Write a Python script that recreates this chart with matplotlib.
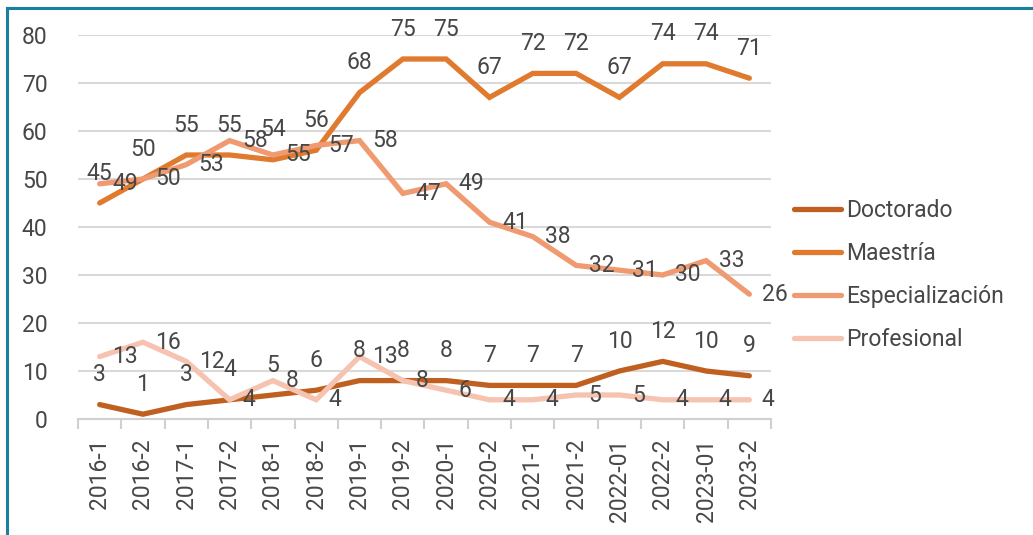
import matplotlib
matplotlib.use("Agg")
import matplotlib.pyplot as plt
from matplotlib.lines import Line2D

categories = ["2016-1", "2016-2", "2017-1", "2017-2", "2018-1", "2018-2", "2019-1", "2019-2",
              "2020-1", "2020-2", "2021-1", "2021-2", "2022-01", "2022-2", "2023-01", "2023-2"]
doctorado = [3, 1, 3, 4, 5, 6, 8, 8, 8, 7, 7, 7, 10, 12, 10, 9]
maestria = [45, 50, 55, 55, 54, 56, 68, 75, 75, 67, 72, 72, 67, 74, 74, 71]
especializacion = [49, 50, 53, 58, 55, 57, 58, 47, 49, 41, 38, 32, 31, 30, 33, 26]
profesional = [13, 16, 12, 4, 8, 4, 13, 8, 6, 4, 4, 5, 5, 4, 4, 4]

series_names = ["Doctorado", "Maestría", "Especialización", "Profesional"]
series_values = [doctorado, maestria, especializacion, profesional]
colors = ["#BF6020", "#E07A2E", "#EF9A70", "#F6C3B0"]
label_mode = ["above", "above", "right", "right"]

plt.rcParams['font.family'] = ['Roboto', 'DejaVu Sans']
text_color = "#474747"

fig = plt.figure(figsize=(10.33, 5.35), dpi=100)
fig.patch.set_facecolor("white")
W, H = 1033, 535
ax = fig.add_axes([78 / W, 1 - 419 / H, (771 - 78) / W, (419 - 35) / H])

x = list(range(len(categories)))
for name, vals, c in zip(series_names, series_values, colors):
    ax.plot(x, vals, color=c, lw=3.8, solid_capstyle='round', solid_joinstyle='miter', label=name, zorder=3)

for vals, mode in zip(series_values, label_mode):
    for xi, v in zip(x, vals):
        if mode == "above":
            ax.annotate(str(v), (xi, v), xytext=(0, 21.5), textcoords='offset points',
                        ha='center', va='center', fontsize=16.5, color=text_color, zorder=5)
        else:
            ax.annotate(str(v), (xi, v), xytext=(9, 0), textcoords='offset points',
                        ha='left', va='center', fontsize=16.5, color=text_color, zorder=5)

ax.set_xlim(-0.5, len(categories) - 0.5)
ax.set_ylim(0, 80)
ax.set_yticks(range(0, 81, 10))
ax.yaxis.grid(True, color="#D9D9D9", lw=1.5)
ax.set_axisbelow(True)
for s in ["top", "right", "left"]:
    ax.spines[s].set_visible(False)
ax.spines["bottom"].set_color("#D0D0D0")
ax.spines["bottom"].set_linewidth(1.5)
ax.tick_params(axis='y', length=0, pad=22, labelsize=16.5, labelcolor=text_color)
ax.set_xticks(x)
ax.set_xticklabels(categories, rotation=90, fontsize=16.5, color=text_color)
ax.tick_params(axis='x', length=0, pad=14)
# tick marks between categories
ax.set_xticks([i - 0.5 for i in range(len(categories) + 1)], minor=True)
ax.tick_params(axis='x', which='minor', length=7, width=1.5, color="#D0D0D0")

handles = [Line2D([0], [0], color=c, lw=3.8, solid_capstyle='round') for c in colors]
fig.legend(handles, series_names, loc='center left', bbox_to_anchor=(773 / W, 1 - 275 / H),
           frameon=False, fontsize=16.5, labelcolor=text_color, handlelength=2.05,
           handletextpad=0.25, labelspacing=0.88)

# teal frame
fig.add_artist(Line2D([7 / W, 7 / W], [0, 1 - 8 / H], transform=fig.transFigure, color="#1A7FA0", lw=2.2))
fig.add_artist(Line2D([7 / W, 1], [1 - 8 / H, 1 - 8 / H], transform=fig.transFigure, color="#1A7FA0", lw=2.2))

fig.savefig("out.png", dpi=100, facecolor="white")
